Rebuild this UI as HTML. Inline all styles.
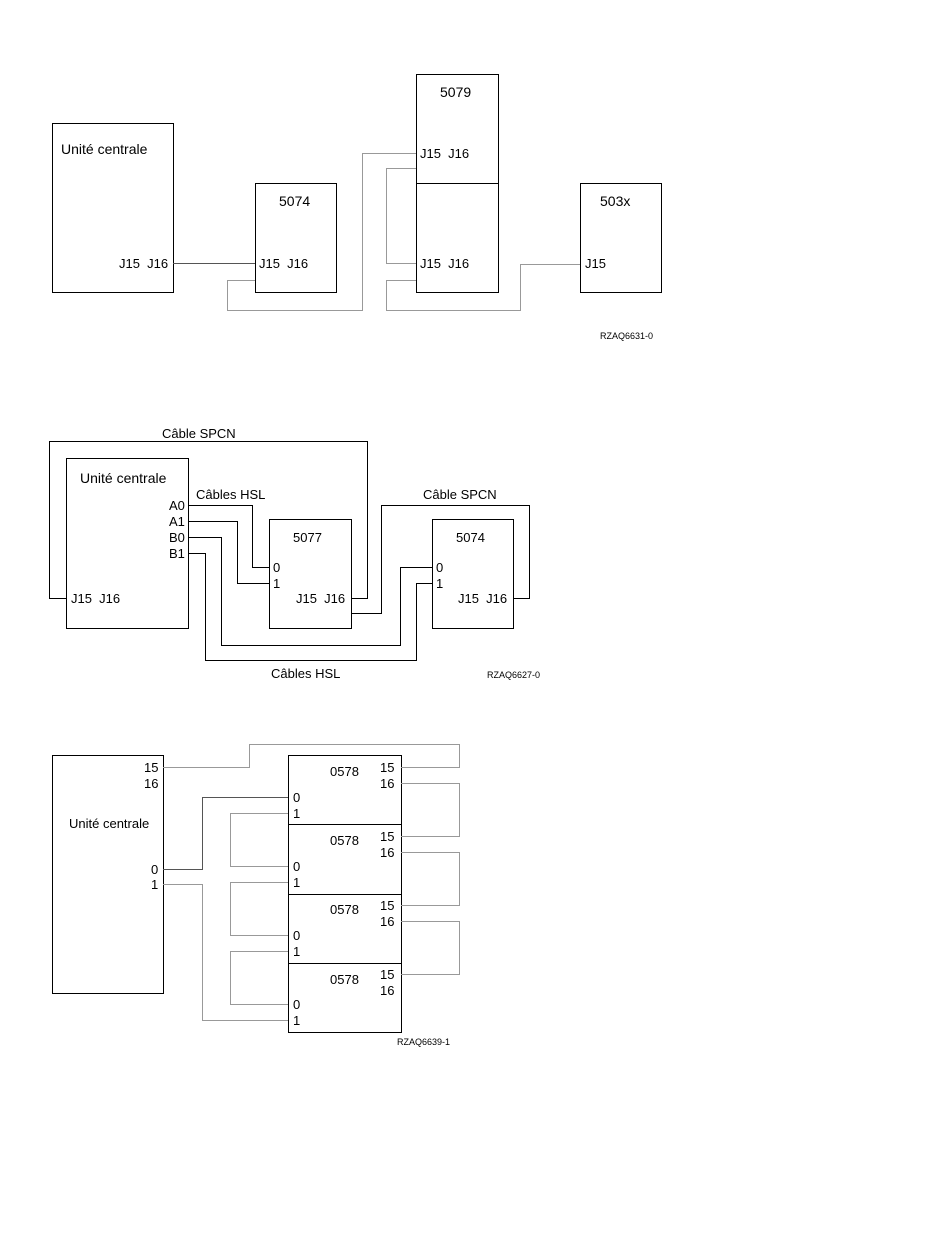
<!DOCTYPE html>
<html><head><meta charset="utf-8"><style>
html,body{margin:0;padding:0;background:#fff;width:950px;height:1259px;overflow:hidden}
svg{display:block}
text{font-family:"Liberation Sans",sans-serif;font-size:13px;fill:#000;white-space:pre}
.s{font-size:9px}
.b{fill:none;stroke:#000;stroke-width:1}
.l{fill:none;stroke:#555;stroke-width:1}
.g{fill:none;stroke:#999;stroke-width:1}
</style></head><body>
<svg width="950" height="1259" viewBox="0 0 950 1259" xml:space="preserve">
<!-- Diagram 1 -->
<rect class="b" x="52.5" y="123.5" width="121" height="169"/>
<rect class="b" x="255.5" y="183.5" width="81" height="109"/>
<rect class="b" x="416.5" y="74.5" width="82" height="109"/>
<rect class="b" x="416.5" y="183.5" width="82" height="109"/>
<rect class="b" x="580.5" y="183.5" width="81" height="109"/>
<polyline class="l" points="173,263.5 255,263.5"/>
<polyline class="g" points="255,280.5 227.5,280.5 227.5,310.5 362.5,310.5 362.5,153.5 416,153.5"/>
<polyline class="g" points="416,168.5 386.5,168.5 386.5,263.5 416,263.5"/>
<polyline class="g" points="416,280.5 386.5,280.5 386.5,310.5 520.5,310.5 520.5,264.5 580,264.5"/>
<text x="61" y="154" style="font-size:14px">Unité centrale</text>
<text x="279" y="206" style="font-size:14px">5074</text>
<text x="440" y="97" style="font-size:14px">5079</text>
<text x="600" y="206" style="font-size:14px">503x</text>
<text x="119" y="268">J15  J16</text>
<text x="259" y="268">J15  J16</text>
<text x="420" y="158">J15  J16</text>
<text x="420" y="268">J15  J16</text>
<text x="585" y="268">J15</text>
<text class="s" x="600" y="339">RZAQ6631-0</text>
<!-- Diagram 2 -->
<rect class="b" x="66.5" y="458.5" width="122" height="170"/>
<rect class="b" x="269.5" y="519.5" width="82" height="109"/>
<rect class="b" x="432.5" y="519.5" width="81" height="109"/>
<polyline class="b" points="66,598.5 49.5,598.5 49.5,441.5 367.5,441.5 367.5,598.5 351,598.5"/>
<polyline class="b" points="188,505.5 252.5,505.5 252.5,567.5 269,567.5"/>
<polyline class="b" points="188,521.5 237.5,521.5 237.5,583.5 269,583.5"/>
<polyline class="b" points="188,537.5 221.5,537.5 221.5,645.5 400.5,645.5 400.5,567.5 432,567.5"/>
<polyline class="b" points="188,553.5 205.5,553.5 205.5,660.5 416.5,660.5 416.5,583.5 432,583.5"/>
<polyline class="b" points="351,613.5 381.5,613.5 381.5,505.5 529.5,505.5 529.5,598.5 513,598.5"/>
<text x="162" y="438">Câble SPCN</text>
<text x="196" y="499">Câbles HSL</text>
<text x="423" y="499">Câble SPCN</text>
<text x="271" y="678">Câbles HSL</text>
<text class="s" x="487" y="678">RZAQ6627-0</text>
<text x="80" y="483" style="font-size:14px">Unité centrale</text>
<text x="169" y="510">A0</text>
<text x="169" y="526">A1</text>
<text x="169" y="542">B0</text>
<text x="169" y="558">B1</text>
<text x="71" y="603">J15  J16</text>
<text x="293" y="542">5077</text>
<text x="273" y="572">0</text>
<text x="273" y="588">1</text>
<text x="296" y="603">J15  J16</text>
<text x="456" y="542">5074</text>
<text x="436" y="572">0</text>
<text x="436" y="588">1</text>
<text x="458" y="603">J15  J16</text>
<!-- Diagram 3 -->
<rect class="b" x="52.5" y="755.5" width="111" height="238"/>
<rect class="b" x="288.5" y="755.5" width="113" height="69"/>
<rect class="b" x="288.5" y="824.5" width="113" height="70"/>
<rect class="b" x="288.5" y="894.5" width="113" height="69"/>
<rect class="b" x="288.5" y="963.5" width="113" height="69"/>
<polyline class="g" points="163,767.5 249.5,767.5 249.5,744.5 459.5,744.5 459.5,767.5 401,767.5"/>
<polyline class="g" points="401,783.5 459.5,783.5 459.5,836.5 401,836.5"/>
<polyline class="g" points="401,852.5 459.5,852.5 459.5,905.5 401,905.5"/>
<polyline class="g" points="401,921.5 459.5,921.5 459.5,974.5 401,974.5"/>
<polyline class="l" points="163,869.5 202.5,869.5 202.5,797.5 288,797.5"/>
<polyline class="g" points="163,884.5 202.5,884.5 202.5,1020.5 288,1020.5"/>
<polyline class="g" points="288,813.5 230.5,813.5 230.5,866.5 288,866.5"/>
<polyline class="g" points="288,882.5 230.5,882.5 230.5,935.5 288,935.5"/>
<polyline class="g" points="288,951.5 230.5,951.5 230.5,1004.5 288,1004.5"/>
<text x="69" y="828">Unité centrale</text>
<text x="144" y="772">15</text>
<text x="144" y="788">16</text>
<text x="151" y="874">0</text>
<text x="151" y="889">1</text>
<text x="330" y="776">0578</text><text x="380" y="772">15</text><text x="380" y="788">16</text><text x="293" y="802">0</text><text x="293" y="818">1</text>
<text x="330" y="845">0578</text><text x="380" y="841">15</text><text x="380" y="857">16</text><text x="293" y="871">0</text><text x="293" y="887">1</text>
<text x="330" y="914">0578</text><text x="380" y="910">15</text><text x="380" y="926">16</text><text x="293" y="940">0</text><text x="293" y="956">1</text>
<text x="330" y="984">0578</text><text x="380" y="979">15</text><text x="380" y="995">16</text><text x="293" y="1009">0</text><text x="293" y="1025">1</text>
<text class="s" x="397" y="1045">RZAQ6639-1</text>
</svg>
</body></html>
